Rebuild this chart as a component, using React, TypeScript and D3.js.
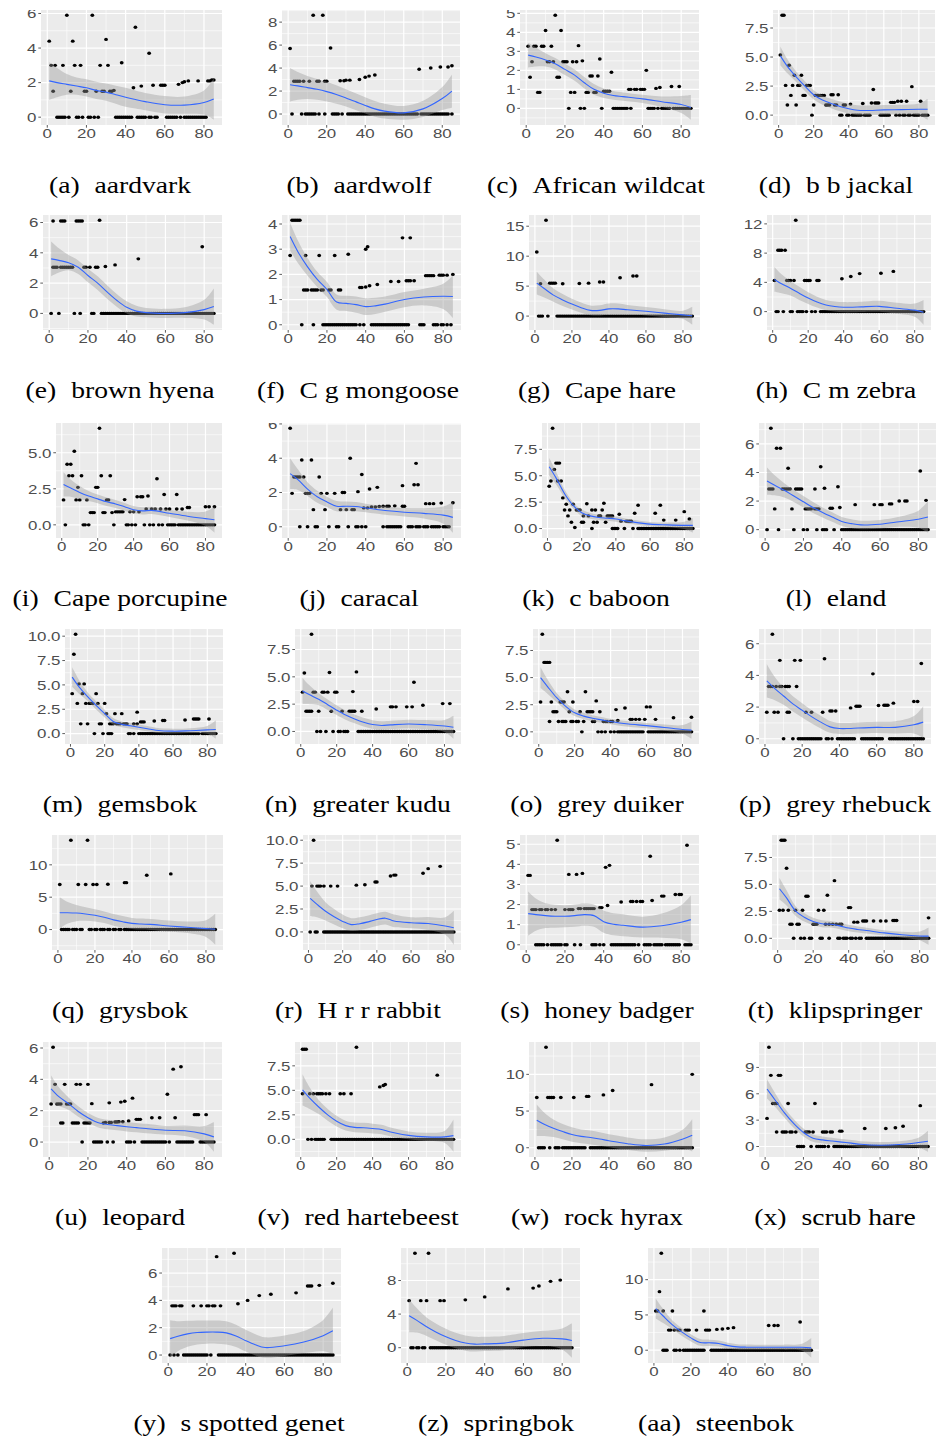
import React from 'react'
import * as d3 from 'd3'

// shared x knots for the smoother (fit and standard error read at these ages)
const knots = [1, 5, 10, 15, 20, 25, 30, 35, 40, 45, 50, 60, 70, 80, 85]
const xTicks = ['0', '20', '40', '60', '80']

// (a) aardvark
const aardvarkPts = [[1,4.4],[2,3],[3,1.5],[4,3],[8,3],[10,5.9],[12,1.5],[13,4.4],[14,3],[17,3],[19,1.5],[20,1.5],[23,5.9],[25,1.5],[27,3],[28,1.5],[29,1.5],[30,4.5],[31,3],[32,1.5],[33,1.5],[34,1.55],[38,3.15],[44,1.7],[45,5.2],[48,1.8],[52,3.7],[54,1.85],[58,1.85],[59,1.85],[60,1.85],[67,1.9],[69,2.0],[70,2.05],[72,2.1],[77,2.1],[82,2.1],[83,2.1],[84,2.15],[85,2.15]]
const aardvarkZero = [5,6,7,8,9,11,15,16,18,21,22,24,26,35,36,37,38,39,40,41,42,43,46,47,48,49,50,52,53,55,56,61,62,63,64,65,66,68,70,71,72,73,74,75,76,77,78,79,80,81]
const aardvarkFit = [2.1,2.0,1.9,1.8,1.7,1.55,1.45,1.3,1.15,1.02,0.9,0.72,0.7,0.85,1.05]
const aardvarkSe = [1.1,0.85,0.6,0.5,0.5,0.5,0.5,0.52,0.55,0.52,0.5,0.5,0.5,0.7,1.2]
const aardvarkTicks = ['0','2','4','6']

// (b) aardwolf
const aardwolfPts = [[1,5.7],[13,8.6],[18,8.6],[22,5.75],[3,2.85],[4,2.85],[5,2.85],[6,2.85],[8,2.85],[11,2.85],[15,2.85],[16,2.85],[19,2.85],[20,2.85],[27,2.9],[29,2.9],[30,2.95],[32,2.95],[37,3.0],[40,3.2],[42,3.3],[45,3.4],[68,3.9],[74,4.0],[79,4.1],[83,4.1],[85,4.2]]
const aardwolfZero = [2,7,9,10,11,12,13,14,16,19,23,24,25,26,28,31,32,33,34,35,36,37,38,39,40,41,42,43,44,45,46,47,48,49,50,51,52,53,54,55,56,57,58,59,60,61,62,63,64,65,66,67,69,70,71,72,73,74,75,76,77,78,79,80,81,82,83,85]
const aardwolfFit = [2.55,2.45,2.3,2.15,1.95,1.7,1.4,1.08,0.75,0.45,0.25,0.1,0.45,1.35,2.0]
const aardwolfSe = [1.45,1.2,1.0,0.9,0.85,0.8,0.75,0.72,0.7,0.68,0.65,0.6,0.7,1.0,1.45]
const aardwolfTicks = ['0','2','4','6','8']

// (c) African wildcat
const wildcatPts = [[1,3.27],[2,1.64],[3,2.45],[4,3.27],[5,3.27],[6,0.84],[7,0.84],[8,3.27],[9,3.27],[10,4.1],[11,2.45],[12,2.45],[13,3.27],[14,2.45],[15,4.9],[16,1.64],[17,1.64],[18,4.1],[19,2.45],[20,2.45],[21,2.45],[23,0.84],[24,2.45],[25,0.84],[26,2.45],[27,3.3],[29,2.5],[31,0.84],[32,0.84],[33,1.7],[34,1.7],[35,0.84],[36,0.84],[37,1.7],[38,2.6],[40,0.9],[41,0.9],[42,0.9],[43,0.9],[44,1.9],[53,1.0],[54,1.0],[56,1.0],[57,1.0],[59,1.0],[60,1.0],[61,1.0],[62,2.0],[67,1.05],[69,1.1],[75,1.15],[79,1.15]]
const wildcatZero = [22,28,30,39,45,46,47,48,49,50,51,52,54,63,64,65,66,68,70,71,72,73,74,76,77,78,79,80,81,82,83,84,85]
const wildcatFit = [2.8,2.7,2.55,2.35,2.05,1.75,1.35,1.0,0.8,0.68,0.62,0.5,0.35,0.2,0.05]
const wildcatSe = [0.65,0.5,0.35,0.3,0.3,0.3,0.3,0.28,0.25,0.23,0.22,0.22,0.28,0.45,0.65]
const wildcatTicks = ['0','1','2','3','4','5']

// (d) b b jackal
const jackalPts = [[1,5.17],[2,8.6],[3,8.6],[4,2.56],[5,0.87],[6,4.3],[7,1.7],[8,2.56],[9,3.43],[10,0.87],[11,2.56],[12,2.56],[13,3.43],[14,1.7],[15,1.7],[16,2.56],[17,2.56],[18,2.56],[20,0.87],[21,1.7],[22,1.7],[23,1.7],[24,1.7],[25,1.7],[26,1.7],[27,0.87],[28,0.87],[29,0.87],[30,1.75],[31,1.75],[32,0.87],[33,0.87],[34,1.75],[37,0.87],[38,0.87],[41,0.95],[48,1.0],[53,1.05],[54,2.2],[55,1.05],[56,1.05],[57,1.05],[64,1.1],[65,1.1],[66,1.1],[68,1.2],[70,1.2],[73,1.2],[76,2.45],[81,1.2]]
const jackalZero = [19,35,36,39,40,42,43,44,45,46,47,49,50,51,52,58,59,60,61,62,63,67,69,71,72,74,75,77,78,79,80,82,83,84,85]
const jackalFit = [5.1,4.2,3.3,2.5,1.75,1.3,1.0,0.75,0.55,0.42,0.4,0.45,0.47,0.5,0.5]
const jackalSe = [0.8,0.6,0.45,0.42,0.4,0.4,0.4,0.42,0.42,0.42,0.42,0.42,0.42,0.5,0.9]
const jackalTicks = ['0.0','2.5','5.0','7.5']

// (e) brown hyena
const hyenaPts = [[2,6.1],[6,6.1],[7,6.1],[8,6.1],[14,6.1],[15,6.1],[16,6.1],[17,6.1],[26,6.15],[2,3.05],[3,3.05],[4,3.05],[6,3.05],[7,3.05],[8,3.05],[9,3.05],[10,3.05],[11,3.05],[12,3.05],[18,3.05],[19,3.05],[21,3.05],[24,3.05],[25,3.05],[29,3.1],[34,3.2],[46,3.6],[79,4.4]]
const hyenaZero = [1,5,13,16,22,23,27,28,29,30,31,32,33,34,35,36,37,38,39,40,41,42,43,44,45,46,47,48,49,50,51,52,53,54,55,56,57,58,59,60,61,62,63,64,65,66,67,68,69,70,71,72,73,74,75,76,77,78,79,80,81,82,83,84,85]
const hyenaFit = [3.6,3.5,3.35,3.05,2.5,2.0,1.4,0.85,0.4,0.15,0.05,0.0,0.05,0.25,0.45]
const hyenaSe = [1.15,0.8,0.5,0.45,0.45,0.45,0.45,0.42,0.4,0.35,0.3,0.3,0.35,0.65,1.2]
const hyenaTicks = ['0','2','4','6']

// (f) C g mongoose
const mongoosePts = [[1,2.75],[2,4.15],[3,4.15],[4,4.15],[5,4.15],[6,4.15],[9,2.75],[16,2.75],[24,2.75],[31,2.8],[40,3.0],[41,3.1],[59,3.45],[63,3.45],[8,1.38],[9,1.38],[10,1.38],[12,1.38],[13,1.38],[14,1.38],[15,1.38],[17,1.38],[18,1.38],[21,1.38],[22,1.38],[26,1.38],[27,1.38],[37,1.48],[38,1.48],[40,1.5],[42,1.55],[46,1.6],[53,1.72],[57,1.72],[61,1.75],[62,1.75],[63,1.75],[65,1.75],[71,1.95],[72,1.95],[73,1.95],[74,1.95],[75,1.95],[78,1.97],[79,1.97],[80,1.97],[82,1.97],[85,2.0]]
const mongooseZero = [7,13,18,19,20,21,22,23,24,25,26,27,28,29,30,31,32,33,34,35,37,39,43,44,45,46,47,48,49,50,51,52,53,54,55,56,57,58,59,60,61,62,68,69,70,75,76,77,79,80,82,84]
const mongooseFit = [3.5,2.9,2.3,1.8,1.4,0.9,0.85,0.8,0.72,0.75,0.82,1.0,1.1,1.13,1.12]
const mongooseSe = [0.55,0.45,0.35,0.3,0.3,0.3,0.3,0.32,0.33,0.32,0.3,0.3,0.33,0.5,0.85]
const mongooseTicks = ['0','1','2','3','4']

// (g) Cape hare
const capeHarePts = [[1,10.7],[6,16],[3,5.4],[8,5.5],[9,5.5],[10,5.5],[11,5.5],[15,5.4],[24,5.45],[29,5.5],[35,5.7],[37,5.7],[46,6.4],[53,6.7],[55,6.7]]
const capeHareZero = [2,3,4,7,12,13,14,15,16,17,18,19,20,21,22,23,24,25,26,27,28,29,30,31,32,33,34,35,36,37,38,39,40,41,42,43,44,45,46,47,48,49,50,51,52,53,54,55,56,57,58,59,60,61,62,63,64,65,66,67,68,69,70,71,72,73,74,75,76,77,78,79,80,81,82,83,84,85]
const capeHareFit = [5.5,4.6,3.5,2.7,2.0,1.4,0.95,0.95,1.2,1.2,1.05,0.8,0.5,0.2,0.05]
const capeHareSe = [1.9,1.5,1.1,1.0,0.9,0.85,0.8,0.85,0.9,0.88,0.8,0.7,0.65,0.7,1.5]
const capeHareTicks = ['0','5','10','15']

// (h) C m zebra
const zebraPts = [[1,4.25],[3,8.4],[4,8.4],[5,8.4],[7,8.4],[8,4.25],[9,4.25],[10,4.25],[12,4.25],[13,12.5],[18,4.25],[19,4.25],[20,4.25],[21,4.25],[25,4.25],[26,4.25],[39,4.5],[44,4.8],[49,5.2],[61,5.25],[68,5.5]]
const zebraZero = [2,3,6,10,11,14,15,16,17,19,22,24,27,28,29,30,31,32,33,34,35,36,37,38,39,40,41,42,43,44,45,46,47,48,49,50,51,52,53,54,55,56,57,58,59,60,61,62,63,64,65,66,67,68,69,70,71,72,73,74,75,76,77,78,79,80,81,82,83,84,85]
const zebraFit = [4.4,3.8,3.2,2.5,1.85,1.3,0.9,0.7,0.6,0.6,0.65,0.72,0.45,0.2,-0.1]
const zebraSe = [1.7,1.3,1.0,0.9,0.8,0.75,0.7,0.7,0.7,0.7,0.7,0.75,0.75,0.9,1.7]
const zebraTicks = ['0','4','8','12']

// (i) Cape porcupine
const porcupinePts = [[1,1.73],[3,4.2],[4,3.4],[5,4.2],[6,3.4],[7,5.1],[8,1.73],[9,2.6],[10,1.73],[11,3.4],[14,1.73],[16,0.85],[17,0.85],[18,0.85],[19,2.6],[20,2.6],[21,6.7],[22,3.4],[23,0.85],[24,0.85],[25,1.73],[26,1.73],[27,3.4],[28,0.85],[30,0.9],[31,0.9],[32,0.9],[33,0.9],[34,0.9],[35,1.75],[38,0.9],[40,0.9],[42,1.95],[43,0.9],[44,1.95],[45,1.95],[47,1.1],[48,2.0],[50,1.1],[52,1.1],[53,3.2],[55,1.1],[57,2.1],[58,1.1],[60,1.1],[64,2.1],[64,1.1],[67,1.1],[70,1.2],[71,1.2],[80,1.25],[82,1.25],[85,1.25]]
const porcupineZero = [2,12,13,15,29,36,37,39,41,46,49,51,54,56,59,60,61,62,63,65,66,67,68,69,70,71,72,73,74,75,76,77,78,79,80,81,82,83,84,85]
const porcupineFit = [2.8,2.55,2.25,2.0,1.8,1.6,1.45,1.25,1.05,0.97,1.0,0.8,0.6,0.43,0.35]
const porcupineSe = [0.85,0.6,0.45,0.35,0.3,0.3,0.28,0.27,0.25,0.25,0.25,0.25,0.3,0.5,0.9]
const porcupineTicks = ['0.0','2.5','5.0']

// (j) caracal
const caracalPts = [[1,5.75],[2,1.95],[3,2.9],[4,2.9],[5,2.9],[6,2.9],[7,3.9],[8,2.9],[9,1.95],[10,1.95],[11,1.95],[12,3.9],[13,1.0],[16,2.9],[17,1.95],[19,1.0],[20,1.95],[24,1.95],[27,1.0],[28,2.0],[29,2.0],[30,1.0],[32,4.0],[33,1.0],[34,1.0],[36,2.05],[38,3.05],[39,1.1],[41,1.1],[42,2.2],[43,1.15],[45,1.15],[46,2.3],[47,1.18],[49,1.2],[51,1.2],[52,1.2],[55,1.22],[59,1.2],[59,2.4],[60,1.2],[65,2.45],[66,3.7],[67,2.45],[71,1.35],[73,1.35],[75,1.35],[79,1.38],[85,1.4]]
const caracalZero = [6,10,14,15,21,25,26,31,35,36,38,40,49,51,52,53,54,55,56,57,58,62,63,64,66,67,68,70,71,72,74,75,76,77,78,80,81,82,83]
const caracalFit = [3.1,2.75,2.2,1.75,1.45,1.2,1.2,1.18,1.1,1.02,0.95,0.85,0.78,0.68,0.55]
const caracalSe = [0.9,0.6,0.4,0.35,0.3,0.3,0.28,0.27,0.25,0.25,0.25,0.25,0.3,0.5,0.9]
const caracalTicks = ['0','2','4','6']

// (k) c baboon
const baboonPts = [[1,4.0],[2,4.5],[3,9.5],[4,5.6],[5,6.2],[6,6.2],[7,6.2],[6,4.5],[8,4.5],[9,2.9],[10,1.75],[11,2.3],[12,1.2],[13,1.75],[14,0.6],[15,2.3],[16,0.1],[17,1.75],[18,1.75],[19,1.75],[20,0.6],[21,0.6],[21,1.2],[23,2.35],[24,1.2],[26,1.75],[27,0.6],[28,1.75],[29,0.6],[30,1.2],[31,1.2],[32,1.75],[33,2.4],[34,0.6],[35,1.2],[36,1.2],[37,1.2],[38,1.2],[42,1.35],[43,0.7],[46,0.7],[47,0.7],[48,0.7],[49,0.7],[51,1.45],[53,2.2],[63,1.45],[66,2.2],[68,0.8],[75,0.8],[80,1.6],[83,0.9]]
const baboonZero = [26,38,39,40,41,45,50,53,54,55,56,57,58,59,60,61,62,63,64,65,66,67,68,69,70,71,72,73,74,75,76,77,78,79,80,81,82,83,84,85]
const baboonFit = [5.85,4.8,3.3,2.2,1.5,1.2,1.05,0.98,0.9,0.75,0.62,0.42,0.35,0.3,0.3]
const baboonSe = [0.85,0.6,0.4,0.3,0.3,0.28,0.25,0.25,0.25,0.23,0.22,0.2,0.22,0.35,0.7]
const baboonTicks = ['0.0','2.5','5.0','7.5','10.0']

// (l) eland
const elandPts = [[2,2.85],[3,2.85],[4,2.85],[3,7.1],[5,1.45],[6,5.7],[8,5.7],[9,2.85],[10,2.85],[11,2.85],[12,2.85],[13,2.85],[12,4.3],[14,1.45],[16,2.85],[17,2.85],[18,2.85],[19,2.85],[21,1.45],[22,1.45],[23,1.45],[24,1.45],[26,1.45],[27,1.45],[28,1.45],[26,2.85],[29,4.4],[31,2.9],[34,1.5],[35,1.5],[38,3.0],[39,1.55],[47,1.75],[57,1.75],[60,1.75],[61,1.75],[65,1.8],[66,1.8],[70,2.0],[73,2.0],[74,2.0],[81,4.1],[84,2.05]]
const elandZero = [1,7,15,20,22,27,30,31,32,36,40,41,42,43,44,45,46,47,48,49,50,51,52,53,54,55,56,57,58,59,60,61,62,63,64,65,66,67,68,69,70,71,72,73,74,75,76,77,78,79,80,81,82,83,84,85]
const elandFit = [3.4,3.1,2.75,2.35,1.95,1.55,1.2,0.88,0.57,0.42,0.33,0.38,0.55,0.73,0.88]
const elandSe = [0.95,0.7,0.5,0.42,0.4,0.38,0.35,0.33,0.32,0.31,0.3,0.3,0.35,0.6,1.1]
const elandTicks = ['0','2','4','6']

// (m) gemsbok
const gemsbokPts = [[1,4.1],[2,8.15],[3,10.2],[4,3.1],[5,5.1],[6,1.0],[7,4.1],[8,5.1],[9,3.1],[10,1.0],[11,3.1],[12,3.1],[13,3.1],[15,4.1],[16,3.1],[17,1.0],[18,1.0],[20,3.1],[21,2.05],[23,1.0],[24,1.0],[25,1.0],[26,2.05],[27,1.0],[28,1.0],[29,1.0],[30,2.05],[31,1.0],[32,1.0],[33,1.0],[37,1.0],[39,1.0],[39,2.2],[41,1.2],[42,1.2],[43,1.2],[49,1.3],[54,1.35],[55,1.35],[67,1.4],[72,1.5],[73,1.5],[74,1.5],[75,1.5],[81,1.5]]
const gemsbokZero = [14,19,22,23,24,34,35,37,40,41,42,43,44,45,46,47,48,49,50,51,52,53,54,55,56,57,58,59,60,61,62,63,64,65,66,67,68,69,70,71,72,73,74,75,77,78,79,80,81,82,83,84,85]
const gemsbokFit = [5.8,4.8,3.8,2.9,2.05,1.25,0.95,0.8,0.65,0.5,0.35,0.25,0.3,0.38,0.42]
const gemsbokSe = [1.0,0.7,0.45,0.42,0.4,0.35,0.3,0.29,0.28,0.27,0.25,0.25,0.25,0.4,0.95]
const gemsbokTicks = ['0.0','2.5','5.0','7.5','10.0']

// (n) greater kudu
const kuduPts = [[1,3.6],[2,5.35],[3,1.85],[4,1.85],[5,1.85],[6,1.85],[6,8.9],[7,3.6],[8,3.6],[10,1.85],[12,3.6],[13,3.6],[15,3.6],[16,5.4],[17,1.85],[19,3.6],[20,3.6],[23,1.85],[27,1.85],[28,1.85],[29,1.85],[29,3.65],[30,1.85],[31,5.45],[34,1.85],[42,2.05],[50,2.25],[51,2.25],[53,2.25],[59,2.25],[62,2.25],[63,4.5],[68,2.4],[79,2.55],[83,2.55]]
const kuduZero = [9,11,14,18,21,22,24,25,26,32,33,34,35,36,37,38,39,40,41,42,43,44,45,46,47,48,49,50,51,52,53,54,55,56,57,58,59,60,61,62,63,64,65,66,67,68,69,70,71,72,73,74,75,76,77,78,79,80,81,82,83,84,85]
const kuduFit = [3.7,3.35,2.95,2.45,1.95,1.5,1.15,0.85,0.63,0.55,0.6,0.68,0.62,0.5,0.38]
const kuduSe = [1.2,0.85,0.55,0.48,0.45,0.42,0.4,0.4,0.4,0.39,0.38,0.4,0.42,0.55,1.05]
const kuduTicks = ['0.0','2.5','5.0','7.5']

// (o) grey duiker
const duikerPts = [[1,2.75],[2,9.0],[3,6.4],[4,6.4],[5,6.4],[6,6.4],[6,0.95],[7,2.75],[8,1.85],[9,1.85],[10,1.85],[11,0.95],[12,2.75],[13,0.95],[13,2.75],[14,2.75],[14,0.95],[15,0.95],[16,3.7],[17,1.85],[18,0.95],[19,2.75],[19,0.95],[21,0.95],[22,0.95],[23,1.85],[25,0.95],[26,3.7],[27,1.85],[28,1.85],[29,1.85],[30,1.85],[30,0.95],[31,0.95],[32,2.85],[34,1.85],[36,0.95],[37,0.95],[38,0.95],[40,0.95],[41,0.95],[43,2.05],[44,1.05],[48,2.2],[51,1.15],[52,1.15],[54,1.15],[56,1.15],[59,1.15],[60,2.3],[62,2.3],[65,1.15],[75,1.3],[85,1.35]]
const duikerZero = [24,33,35,37,40,42,44,45,46,47,48,49,50,51,52,53,54,55,56,57,58,61,62,63,64,65,66,67,68,69,70,71,72,73,74,75,76,77,78,79,80,81,82,83,84,85]
const duikerFit = [5.0,4.15,3.15,2.35,1.75,1.45,1.25,1.1,0.95,0.82,0.72,0.57,0.4,0.22,0.16]
const duikerSe = [0.95,0.65,0.42,0.35,0.3,0.3,0.28,0.27,0.25,0.25,0.25,0.25,0.28,0.4,0.8]
const duikerTicks = ['0.0','2.5','5.0','7.5']

// (p) grey rhebuck
const rhebuckPts = [[1,1.67],[2,3.3],[3,3.3],[4,3.3],[4,6.6],[5,1.67],[6,3.3],[7,1.67],[8,3.3],[8,4.95],[9,3.3],[11,3.3],[12,3.3],[12,1.67],[13,1.67],[13,3.3],[16,4.95],[17,3.3],[19,4.95],[22,1.67],[25,1.67],[31,1.67],[32,5.05],[35,1.75],[36,1.75],[38,1.75],[46,1.95],[49,2.05],[50,2.05],[51,2.05],[58,4.1],[61,2.1],[64,2.12],[65,2.12],[66,2.12],[69,2.25],[80,2.35],[82,2.35],[84,4.75]]
const rhebuckZero = [10,15,18,19,20,21,22,23,24,25,26,27,28,29,30,33,34,36,39,40,41,42,43,44,45,46,47,48,52,53,54,55,56,57,58,59,60,61,62,63,67,68,69,70,71,72,73,74,75,76,77,78,79,80,81,82,83,84,85]
const rhebuckFit = [3.65,3.2,2.7,2.2,1.8,1.4,1.05,0.75,0.65,0.65,0.68,0.72,0.72,0.88,1.05]
const rhebuckSe = [1.05,0.75,0.55,0.48,0.45,0.42,0.4,0.37,0.35,0.35,0.35,0.35,0.38,0.55,1.0]
const rhebuckTicks = ['0','2','4','6']

// (q) grysbok
const grysbokPts = [[1,6.95],[7,13.8],[16,13.8],[11,6.95],[15,6.95],[19,6.95],[21,6.95],[27,7.0],[36,7.25],[37,7.25],[48,8.4],[61,8.6]]
const grysbokZero = [2,3,4,5,6,8,9,10,12,13,17,18,20,21,23,24,25,27,28,30,31,33,34,36,37,38,39,40,41,42,43,44,45,46,47,48,49,50,51,52,53,54,55,56,57,58,59,60,61,62,63,64,65,66,67,68,69,70,71,72,73,74,75,76,77,78,79,80,81,82,83,84,85]
const grysbokFit = [2.6,2.6,2.55,2.4,2.2,1.9,1.5,1.2,0.95,0.85,0.8,0.55,0.35,0.15,0.05]
const grysbokSe = [2.4,1.7,1.25,1.05,0.95,0.9,0.9,0.88,0.85,0.85,0.85,0.85,0.9,1.3,2.4]
const grysbokTicks = ['0','5','10']

// (r) H r r rabbit
const rabbitPts = [[3,10.0],[2,5.0],[5,5.0],[6,5.0],[7,5.0],[9,5.0],[13,5.0],[17,5.0],[28,5.1],[33,5.15],[39,5.45],[40,5.45],[48,6.1],[50,6.2],[51,6.2],[67,6.4],[70,6.9],[77,7.15]]
const rabbitZero = [1,4,5,9,10,11,12,13,14,15,16,17,18,19,20,21,22,23,24,25,26,27,28,29,30,31,32,33,34,35,36,37,38,39,40,41,42,43,44,45,46,47,48,49,50,51,52,53,54,55,56,57,58,59,60,61,62,63,64,65,66,67,68,69,70,71,72,73,74,75,76,77,78,79,80,81,82,83,84,85]
const rabbitFit = [3.65,3.0,2.25,1.65,1.15,0.8,0.9,1.1,1.35,1.5,1.2,1.0,0.92,0.65,0.45]
const rabbitSe = [1.9,1.4,1.0,0.85,0.75,0.7,0.7,0.7,0.7,0.7,0.7,0.6,0.7,0.95,1.85]
const rabbitTicks = ['0.0','2.5','5.0','7.5','10.0']

// (s) honey badger
const badgerPts = [[1,3.45],[2,3.45],[3,1.75],[4,1.75],[5,1.75],[7,1.75],[8,1.75],[10,1.75],[11,1.75],[13,1.75],[15,1.75],[16,5.2],[20,1.75],[22,1.75],[23,1.75],[24,1.75],[22,3.5],[26,3.5],[29,3.55],[27,1.8],[28,1.8],[30,1.8],[31,1.8],[32,1.8],[33,1.8],[34,1.8],[35,1.8],[38,1.85],[39,1.85],[41,3.85],[42,1.95],[43,3.95],[49,2.13],[54,2.15],[55,2.15],[57,2.15],[59,2.15],[60,2.15],[64,4.4],[65,2.2],[70,2.42],[71,2.42],[77,2.5],[79,2.5],[80,2.5],[83,4.95]]
const badgerZero = [5,6,7,8,9,11,13,14,15,16,17,18,20,21,25,28,34,35,36,38,40,44,45,46,47,48,49,50,51,52,53,54,55,56,58,61,62,63,64,66,67,68,69,70,72,73,74,75,76,77,78,79,82,83,84,85]
const badgerFit = [1.55,1.5,1.45,1.42,1.42,1.45,1.5,1.45,1.15,1.02,0.97,0.88,0.95,1.12,1.25]
const badgerSe = [1.1,0.8,0.62,0.57,0.55,0.55,0.55,0.55,0.55,0.55,0.55,0.52,0.6,0.85,1.2]
const badgerTicks = ['0','1','2','3','4','5']

// (t) klipspringer
const klipPts = [[1,2.6],[2,9.1],[3,9.1],[4,9.1],[3,2.6],[5,6.5],[6,2.6],[7,1.3],[8,1.3],[10,2.6],[11,1.3],[12,1.3],[14,2.6],[16,3.9],[17,3.9],[20,1.3],[21,1.3],[22,1.3],[23,2.6],[26,2.6],[27,1.3],[28,4.0],[29,1.3],[31,1.3],[32,5.35],[33,1.3],[35,1.3],[36,1.3],[40,2.85],[41,2.85],[43,1.5],[45,1.5],[48,1.6],[49,1.6],[50,1.6],[54,1.6],[58,1.6],[61,1.6],[65,1.65],[66,1.65],[67,1.65],[85,1.9]]
const klipZero = [9,13,15,18,19,24,25,29,34,35,37,38,39,41,42,44,46,47,50,51,52,53,54,55,56,57,58,59,60,61,62,63,64,65,66,67,68,69,70,71,72,73,74,75,76,77,78,79,80,81,82,83,84,85]
const klipFit = [4.6,3.75,2.55,1.95,1.55,1.35,1.3,1.15,0.95,0.82,0.72,0.5,0.33,0.22,0.2]
const klipSe = [1.0,0.7,0.45,0.4,0.35,0.32,0.3,0.3,0.3,0.28,0.27,0.25,0.27,0.4,0.8]
const klipTicks = ['0.0','2.5','5.0','7.5']

// (u) leopard
const leopardPts = [[1,2.43],[2,6.05],[3,3.68],[4,2.43],[5,2.43],[6,2.43],[6,1.22],[7,1.22],[8,3.68],[9,2.43],[10,2.43],[11,2.43],[12,1.22],[13,1.22],[14,1.22],[14,3.68],[15,1.22],[16,3.68],[18,1.22],[19,1.22],[20,1.22],[20,3.68],[21,1.22],[22,2.45],[28,1.22],[29,1.25],[31,1.25],[31,2.5],[32,1.25],[34,1.28],[35,1.28],[36,1.3],[37,2.55],[38,1.3],[39,2.6],[41,1.35],[43,2.8],[45,1.45],[46,1.45],[47,1.45],[53,1.55],[57,1.55],[61,3.05],[64,4.65],[65,1.55],[68,4.8],[75,1.75],[76,1.75],[77,1.75],[81,1.75]]
const leopardZero = [17,23,24,25,26,27,30,33,40,41,42,44,48,49,50,51,52,53,54,55,56,57,58,59,60,62,66,67,68,69,70,71,72,73,74,78,79,80,81,82,83,84,85]
const leopardFit = [3.4,2.9,2.45,1.95,1.55,1.25,1.12,1.05,0.98,0.92,0.86,0.75,0.72,0.52,0.33]
const leopardSe = [0.85,0.6,0.4,0.33,0.3,0.3,0.3,0.3,0.3,0.3,0.3,0.28,0.33,0.5,0.95]
const leopardTicks = ['0','2','4','6']

// (v) red hartebeest
const hartebeestPts = [[1,9.2],[2,9.2],[3,9.2],[1,4.65],[5,4.65],[7,4.65],[9,4.65],[10,4.65],[11,4.65],[12,4.65],[14,4.65],[16,4.65],[22,4.65],[24,4.65],[28,4.65],[31,9.4],[44,5.35],[46,5.5],[47,5.6],[76,6.55]]
const hartebeestZero = [4,6,8,9,10,11,12,13,17,18,19,20,21,22,23,24,25,26,27,28,29,30,31,32,33,34,35,36,37,38,39,40,41,42,43,44,45,46,47,48,49,50,51,52,53,54,55,56,57,58,59,60,61,62,63,64,65,66,67,68,69,70,71,72,73,74,75,76,77,78,79,80,81,82,83,84,85]
const hartebeestFit = [5.05,4.2,3.3,2.5,1.85,1.4,1.22,1.18,1.1,1.0,0.75,0.4,0.25,0.25,0.38]
const hartebeestSe = [1.6,1.1,0.72,0.6,0.55,0.5,0.5,0.5,0.5,0.48,0.45,0.4,0.42,0.6,1.65]
const hartebeestTicks = ['0.0','2.5','5.0','7.5']

// (w) rock hyrax
const hyraxPts = [[1,6.85],[6,13.7],[7,6.85],[8,6.85],[9,6.85],[10,6.85],[14,6.85],[21,6.85],[28,7.0],[29,7.0],[37,7.2],[42,7.8],[63,8.6],[85,10.0]]
const hyraxZero = [2,3,4,5,8,11,12,13,15,16,17,18,19,20,21,22,23,24,25,26,27,30,31,32,33,34,35,36,37,38,39,40,41,42,43,44,45,46,47,48,49,50,51,52,53,54,55,56,57,58,59,60,61,62,63,64,65,66,67,68,69,70,71,72,73,74,75,76,77,78,79,80,81,82,83,84,85]
const hyraxFit = [3.75,3.2,2.65,2.2,1.8,1.55,1.4,1.2,0.95,0.75,0.55,0.3,0.5,1.2,1.7]
const hyraxSe = [2.15,1.6,1.2,1.05,1.0,0.95,0.95,0.92,0.9,0.88,0.85,0.85,0.9,1.3,2.2]
const hyraxTicks = ['0','5','10']

// (x) scrub hare
const scrubPts = [[1,3.2],[2,11.3],[3,8.1],[4,4.9],[5,4.9],[6,4.9],[6,1.65],[7,8.1],[8,8.1],[9,1.65],[10,1.65],[11,1.65],[12,4.9],[13,1.65],[14,1.65],[16,1.65],[21,1.65],[22,1.65],[23,1.65],[25,1.65],[26,4.9],[30,1.65],[31,1.65],[32,1.65],[34,1.65],[35,1.65],[39,1.75],[40,1.75],[52,2.05],[63,2.05],[68,2.13],[72,2.3],[81,4.65]]
const scrubZero = [17,18,19,20,24,27,28,29,30,31,33,36,37,38,39,40,41,42,43,44,45,46,47,48,49,50,51,52,53,54,55,56,57,58,59,60,61,62,63,64,65,66,67,68,69,70,71,72,73,74,75,76,77,78,79,80,81,82,83,84,85]
const scrubFit = [6.55,5.35,3.85,2.6,1.6,0.95,0.75,0.62,0.5,0.38,0.25,0.15,0.22,0.45,0.6]
const scrubSe = [1.1,0.8,0.55,0.5,0.45,0.42,0.4,0.38,0.35,0.35,0.35,0.35,0.38,0.55,1.2]
const scrubTicks = ['0','3','6','9']

// (y) s spotted genet
const genetPts = [[2,3.6],[3,3.6],[4,3.6],[6,3.6],[7,3.6],[13,3.6],[17,3.6],[20,3.6],[21,3.6],[23,3.6],[24,3.6],[27,3.6],[25,7.2],[34,7.45],[36,3.75],[41,4.0],[47,4.35],[53,4.45],[66,4.55],[72,5.05],[73,5.05],[74,5.05],[78,5.1],[85,5.25]]
const genetZero = [1,3,5,8,9,10,11,12,13,14,15,16,17,18,19,20,22,26,27,28,29,30,31,32,33,34,35,36,37,38,39,40,41,42,43,44,45,46,47,48,49,50,51,52,53,54,55,56,57,58,59,60,61,62,63,64,65,66,67,68,69,70,71,72,73,74,75,76,77,78,79,80,81,82,83,84,85]
const genetFit = [1.2,1.38,1.55,1.65,1.68,1.68,1.62,1.4,1.05,0.75,0.55,0.68,0.95,1.42,1.77]
const genetSe = [1.35,1.1,0.95,0.88,0.85,0.85,0.85,0.82,0.8,0.78,0.75,0.75,0.8,1.15,1.7]
const genetTicks = ['0','2','4','6']

// (z) springbok
const springbokPts = [[1,5.6],[4,11.25],[11,11.25],[7,5.6],[10,5.6],[17,5.6],[19,5.6],[30,5.7],[40,6.05],[52,7.0],[65,7.1],[68,7.35],[74,7.9],[79,8.05]]
const springbokZero = [2,3,5,6,8,9,12,13,14,15,16,17,18,19,20,21,22,23,24,25,26,27,28,29,30,31,32,33,34,35,36,37,38,39,40,41,42,43,44,45,46,47,48,49,50,51,52,53,54,55,56,57,58,59,60,61,62,63,64,65,66,67,68,69,70,71,72,73,74,75,76,77,78,79,80,81,82,83,84,85]
const springbokFit = [3.8,3.25,2.5,1.85,1.3,0.85,0.55,0.42,0.45,0.48,0.55,0.9,1.12,1.05,0.85]
const springbokSe = [1.95,1.45,1.1,1.0,0.95,0.92,0.9,0.88,0.85,0.85,0.85,0.85,0.9,1.25,2.05]
const springbokTicks = ['0','4','8']

// (aa) steenbok
const steenbokPts = [[1,5.55],[2,5.55],[3,8.3],[4,13.75],[5,5.55],[8,2.85],[9,2.85],[10,5.55],[11,2.85],[13,2.85],[14,2.85],[17,2.85],[18,2.85],[19,2.85],[23,2.85],[27,5.55],[28,2.85],[29,2.85],[30,2.85],[34,2.95],[37,3.0],[40,3.1],[43,3.2],[62,3.5],[65,3.5],[67,3.5],[79,4.0]]
const steenbokZero = [5,6,7,11,12,14,16,17,18,19,20,21,22,23,24,25,26,27,31,32,33,34,35,36,37,38,39,40,41,42,43,44,45,46,47,48,49,50,51,52,53,54,55,56,57,58,59,60,61,62,63,64,65,66,67,68,69,70,71,72,73,74,75,76,77,78,79,80,81,82,83,84,85]
const steenbokFit = [5.9,4.85,3.6,2.6,1.75,1.1,1.05,0.95,0.65,0.48,0.43,0.42,0.42,0.42,0.33]
const steenbokSe = [1.4,1.0,0.62,0.55,0.5,0.48,0.45,0.42,0.4,0.38,0.37,0.35,0.37,0.5,1.4]
const steenbokTicks = ['0','5','10']

const panels = [
  { tag: '(a)', name: 'aardvark', pts: aardvarkPts, zero: aardvarkZero, fit: aardvarkFit, se: aardvarkSe, ticks: aardvarkTicks },
  { tag: '(b)', name: 'aardwolf', pts: aardwolfPts, zero: aardwolfZero, fit: aardwolfFit, se: aardwolfSe, ticks: aardwolfTicks },
  { tag: '(c)', name: 'African wildcat', pts: wildcatPts, zero: wildcatZero, fit: wildcatFit, se: wildcatSe, ticks: wildcatTicks },
  { tag: '(d)', name: 'b b jackal', pts: jackalPts, zero: jackalZero, fit: jackalFit, se: jackalSe, ticks: jackalTicks },
  { tag: '(e)', name: 'brown hyena', pts: hyenaPts, zero: hyenaZero, fit: hyenaFit, se: hyenaSe, ticks: hyenaTicks },
  { tag: '(f)', name: 'C g mongoose', pts: mongoosePts, zero: mongooseZero, fit: mongooseFit, se: mongooseSe, ticks: mongooseTicks },
  { tag: '(g)', name: 'Cape hare', pts: capeHarePts, zero: capeHareZero, fit: capeHareFit, se: capeHareSe, ticks: capeHareTicks },
  { tag: '(h)', name: 'C m zebra', pts: zebraPts, zero: zebraZero, fit: zebraFit, se: zebraSe, ticks: zebraTicks },
  { tag: '(i)', name: 'Cape porcupine', pts: porcupinePts, zero: porcupineZero, fit: porcupineFit, se: porcupineSe, ticks: porcupineTicks },
  { tag: '(j)', name: 'caracal', pts: caracalPts, zero: caracalZero, fit: caracalFit, se: caracalSe, ticks: caracalTicks },
  { tag: '(k)', name: 'c baboon', pts: baboonPts, zero: baboonZero, fit: baboonFit, se: baboonSe, ticks: baboonTicks },
  { tag: '(l)', name: 'eland', pts: elandPts, zero: elandZero, fit: elandFit, se: elandSe, ticks: elandTicks },
  { tag: '(m)', name: 'gemsbok', pts: gemsbokPts, zero: gemsbokZero, fit: gemsbokFit, se: gemsbokSe, ticks: gemsbokTicks },
  { tag: '(n)', name: 'greater kudu', pts: kuduPts, zero: kuduZero, fit: kuduFit, se: kuduSe, ticks: kuduTicks },
  { tag: '(o)', name: 'grey duiker', pts: duikerPts, zero: duikerZero, fit: duikerFit, se: duikerSe, ticks: duikerTicks },
  { tag: '(p)', name: 'grey rhebuck', pts: rhebuckPts, zero: rhebuckZero, fit: rhebuckFit, se: rhebuckSe, ticks: rhebuckTicks },
  { tag: '(q)', name: 'grysbok', pts: grysbokPts, zero: grysbokZero, fit: grysbokFit, se: grysbokSe, ticks: grysbokTicks },
  { tag: '(r)', name: 'H r r rabbit', pts: rabbitPts, zero: rabbitZero, fit: rabbitFit, se: rabbitSe, ticks: rabbitTicks },
  { tag: '(s)', name: 'honey badger', pts: badgerPts, zero: badgerZero, fit: badgerFit, se: badgerSe, ticks: badgerTicks },
  { tag: '(t)', name: 'klipspringer', pts: klipPts, zero: klipZero, fit: klipFit, se: klipSe, ticks: klipTicks },
  { tag: '(u)', name: 'leopard', pts: leopardPts, zero: leopardZero, fit: leopardFit, se: leopardSe, ticks: leopardTicks },
  { tag: '(v)', name: 'red hartebeest', pts: hartebeestPts, zero: hartebeestZero, fit: hartebeestFit, se: hartebeestSe, ticks: hartebeestTicks },
  { tag: '(w)', name: 'rock hyrax', pts: hyraxPts, zero: hyraxZero, fit: hyraxFit, se: hyraxSe, ticks: hyraxTicks },
  { tag: '(x)', name: 'scrub hare', pts: scrubPts, zero: scrubZero, fit: scrubFit, se: scrubSe, ticks: scrubTicks },
  { tag: '(y)', name: 's spotted genet', pts: genetPts, zero: genetZero, fit: genetFit, se: genetSe, ticks: genetTicks },
  { tag: '(z)', name: 'springbok', pts: springbokPts, zero: springbokZero, fit: springbokFit, se: springbokSe, ticks: springbokTicks },
  { tag: '(aa)', name: 'steenbok', pts: steenbokPts, zero: steenbokZero, fit: steenbokFit, se: steenbokSe, ticks: steenbokTicks },
]

// page layout: row, plot left/right edge, caption centre
const layout = [
  [0, 41, 222, 120], [0, 282, 460, 359], [0, 520, 699, 596], [0, 773, 935, 836],
  [1, 43, 222, 120], [1, 282, 461, 358], [1, 529, 700, 597], [1, 767, 931, 836],
  [2, 56, 222, 120], [2, 282, 461, 359], [2, 542, 700, 596], [2, 759, 936, 836],
  [3, 65, 223, 120], [3, 295, 461, 358], [3, 533, 699, 597], [3, 759, 931, 835],
  [4, 52, 223, 120], [4, 303, 461, 358], [4, 520, 699, 597], [4, 772, 936, 835],
  [5, 43, 222, 120], [5, 295, 461, 358], [5, 529, 700, 597], [5, 759, 936, 835],
  [6, 162, 341, 239], [6, 401, 580, 496], [6, 648, 819, 716],
]
const rowTops = [10, 215, 423, 629, 835, 1042, 1248]
const plotH = 115

const sans = '"Liberation Sans", Arial, Helvetica, sans-serif'
const serif = '"Liberation Serif", "Times New Roman", serif'
const stretch = 1.25

const expand = (lo: number, hi: number): [number, number] => {
  const pad = (hi - lo) * 0.05
  return [lo - pad, hi + pad]
}

const minorBreaks = (ticks: number[], dom: number[]) => {
  const step = ticks[1] - ticks[0]
  const out = ticks.map(t => t - step / 2).concat([ticks[ticks.length - 1] + step / 2])
  return out.filter(v => v > dom[0] && v < dom[1])
}

const xExtent = d3.extent(knots) as [number, number]

const Panel = ({ p, l, i }: any) => {
  const [row, left, right, cap] = l
  const top = rowTops[row]
  const bottom = top + plotH

  const band = knots.map((k, j) => ({ x: k, fit: p.fit[j], lo: p.fit[j] - p.se[j], hi: p.fit[j] + p.se[j] }))
  const pts = p.pts.map((d: number[]) => ({ x: d[0], y: d[1] }))
    .concat(p.zero.map((v: number) => ({ x: v, y: 0 })))

  const x = d3.scaleLinear().domain(expand(xExtent[0], xExtent[1])).range([left, right])
  const yLo = Math.min(0, d3.min(band, d => d.lo) as number)
  const yHi = Math.max(d3.max(pts, (d: any) => d.y) as number, d3.max(band, d => d.hi) as number)
  const y = d3.scaleLinear().domain(expand(yLo, yHi)).range([bottom, top])

  const yT = p.ticks.map((s: string) => ({ v: +s, s })).filter((t: any) => t.v >= y.domain()[0] && t.v <= y.domain()[1])
  const xT = xTicks.map(s => ({ v: +s, s }))
  const yMinor = minorBreaks(p.ticks.map(Number), y.domain())
  const xMinor = minorBreaks(xTicks.map(Number), x.domain())

  const area = d3.area<any>().x(d => x(d.x)).y0(d => y(d.lo)).y1(d => y(d.hi)).curve(d3.curveCatmullRom)
  const line = d3.line<any>().x(d => x(d.x)).y(d => y(d.fit)).curve(d3.curveCatmullRom)

  return (
    <g>
      <defs>
        <clipPath id={`plot-${i}`}><rect x={left} y={top} width={right - left} height={plotH} /></clipPath>
        <clipPath id={`lab-${i}`}><rect x={left - 60} y={top} width={right - left + 80} height={plotH + 40} /></clipPath>
      </defs>
      <rect x={left} y={top} width={right - left} height={plotH} fill="#EBEBEB" />
      <g stroke="#fff" fill="none">
        {yMinor.map(v => <line key={'ym' + v} x1={left} x2={right} y1={y(v)} y2={y(v)} strokeWidth={0.6} />)}
        {xMinor.map(v => <line key={'xm' + v} x1={x(v)} x2={x(v)} y1={top} y2={bottom} strokeWidth={0.6} />)}
        {yT.map((t: any) => <line key={'y' + t.s} x1={left} x2={right} y1={y(t.v)} y2={y(t.v)} strokeWidth={1.2} />)}
        {xT.map(t => <line key={'x' + t.s} x1={x(t.v)} x2={x(t.v)} y1={top} y2={bottom} strokeWidth={1.2} />)}
      </g>
      <g clipPath={`url(#plot-${i})`}>
        {pts.map((d: any, j: number) => <ellipse key={j} cx={x(d.x)} cy={y(d.y)} rx={1.9} ry={1.7} fill="#000" />)}
        <path d={area(band) || ''} fill="#999999" fillOpacity={0.4} />
        <path d={line(band) || ''} fill="none" stroke="#3366FF" strokeWidth={1.1} />
      </g>
      <g clipPath={`url(#lab-${i})`} fontFamily={sans} fontSize={13.5} fill="#4D4D4D">
        {yT.map((t: any) => (
          <g key={'yl' + t.s}>
            <line x1={left - 2.7} x2={left} y1={y(t.v)} y2={y(t.v)} stroke="#333" strokeWidth={0.8} />
            <text transform={`translate(${left - 4.5},${y(t.v) + 4.8}) scale(${stretch},1)`} textAnchor="end">{t.s}</text>
          </g>
        ))}
        {xT.map(t => (
          <g key={'xl' + t.s}>
            <line x1={x(t.v)} x2={x(t.v)} y1={bottom} y2={bottom + 2.7} stroke="#333" strokeWidth={0.8} />
            <text transform={`translate(${x(t.v)},${bottom + 12.5}) scale(${stretch},1)`} textAnchor="middle">{t.s}</text>
          </g>
        ))}
      </g>
      <text transform={`translate(${cap},${top + 183}) scale(1.15,1)`} textAnchor="middle" fontFamily={serif} fontSize={24} fill="#000">
        <tspan>{p.tag}</tspan><tspan dx={13}>{p.name}</tspan>
      </text>
    </g>
  )
}

export default function App() {
  return (
    <svg width={936} height={1438} style={{ position: 'absolute', left: 0, top: 0, background: '#fff' }}>
      {panels.map((p, i) => <Panel key={p.tag} p={p} l={layout[i]} i={i} />)}
    </svg>
  )
}
